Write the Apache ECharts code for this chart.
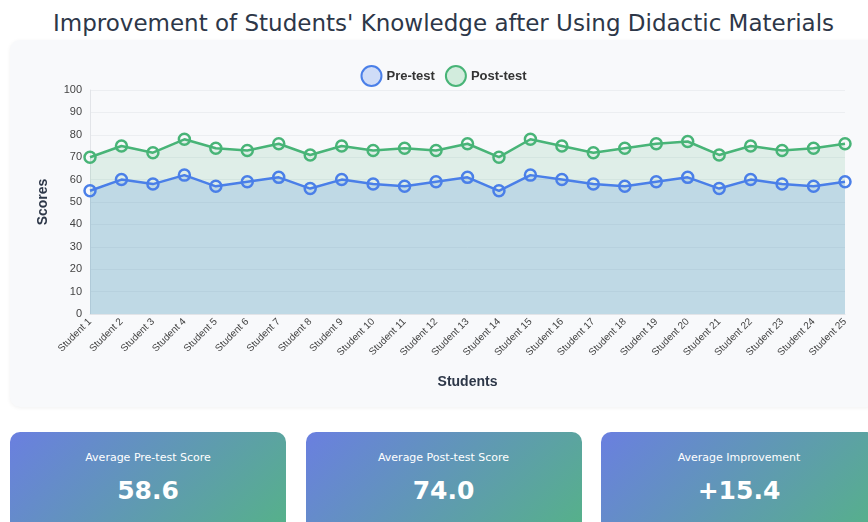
<!DOCTYPE html>
<html>
<head>
<meta charset="utf-8">
<script src="https://cdn.jsdelivr.net/npm/echarts@6/dist/echarts.min.js"></script>
<style>
  body { margin: 0; background: #fff; font-family: "DejaVu Sans", sans-serif; overflow: hidden; width: 868px; height: 522px; }
  #wrap { position: absolute; left: 10px; top: 0; width: 867px; }
  h1 { margin: 0; height: 40px; line-height: 46px; text-align: center; font-weight: normal; font-size: 23px; color: #2d3748; }
  #card { position: relative; height: 367px; background: #f8f9fb; border-radius: 10px; box-shadow: 0 1px 4px rgba(0,0,0,0.06); }
  #main { position: absolute; left: 0; top: 0; width: 867px; height: 367px; }
  .stats { display: flex; justify-content: space-between; margin-top: 25px; }
  .stat { width: 276px; height: 110px; border-radius: 10px; color: #fff; text-align: center;
          background: linear-gradient(135deg, #6a7fe0 0%, #55b386 100%); }
  .stat .lbl { font-size: 11px; padding-top: 19px; }
  .stat .val { font-size: 25px; font-weight: bold; margin-top: 12px; }
</style>
</head>
<body>
<div id="wrap">
  <h1>Improvement of Students' Knowledge after Using Didactic Materials</h1>
  <div id="card"><div id="main"></div></div>
  <div class="stats">
    <div class="stat"><div class="lbl">Average Pre-test Score</div><div class="val" id="s1"></div></div>
    <div class="stat"><div class="lbl">Average Post-test Score</div><div class="val" id="s2"></div></div>
    <div class="stat"><div class="lbl">Average Improvement</div><div class="val" id="s3"></div></div>
  </div>
</div>
<script>
var students = [];
for (var i = 1; i <= 25; i++) students.push('Student ' + i);
var preTest = [55, 60, 58, 62, 57, 59, 61, 56, 60, 58, 57, 59, 61, 55, 62, 60, 58, 57, 59, 61, 56, 60, 58, 57, 59];
var postTest = [70, 75, 72, 78, 74, 73, 76, 71, 75, 73, 74, 73, 76, 70, 78, 75, 72, 74, 76, 77, 71, 75, 73, 74, 76];

function avg(a) {
    var s = 0;
    a.forEach(function(v) { s += v; });
    return s / a.length;
}
var preAvg = avg(preTest), postAvg = avg(postTest);
document.getElementById('s1').textContent = preAvg.toFixed(1);
document.getElementById('s2').textContent = postAvg.toFixed(1);
document.getElementById('s3').textContent = '+' + (postAvg - preAvg).toFixed(1);

var myChart = echarts.init(document.getElementById('main'));
var option = {
    legend: {
        top: 20,
        left: 'center',
        itemWidth: 20,
        itemHeight: 20,
        itemGap: 10,
        textStyle: { fontWeight: 'bold', fontSize: 13, color: '#333' },
        data: [
            { name: 'Pre-test', icon: 'circle', itemStyle: { color: '#cfdcf7', borderColor: '#4a7fe8', borderWidth: 2 } },
            { name: 'Post-test', icon: 'circle', itemStyle: { color: '#d2ecdd', borderColor: '#48b477', borderWidth: 2 } }
        ]
    },
    // 图表位置
    grid: { left: 80, right: 32, top: 50, bottom: 93, containLabel: false },
    xAxis: {
        type: 'category',
        data: students,
        boundaryGap: false,
        name: 'Students',
        nameLocation: 'middle',
        nameGap: 61,
        nameTextStyle: { fontWeight: 'bold', fontSize: 14, color: '#2d3748' },
        axisLine: { lineStyle: { color: '#e2e4e8' } },
        axisTick: { show: false },
        axisLabel: { rotate: 45, fontSize: 10, color: '#444', interval: 0, margin: 6 }
    },
    yAxis: {
        type: 'value',
        min: 0,
        max: 100,
        interval: 10,
        name: 'Scores',
        nameLocation: 'middle',
        nameGap: 40,
        nameTextStyle: { fontWeight: 'bold', fontSize: 14, color: '#2d3748' },
        axisLine: { show: true, lineStyle: { color: '#e2e4e8' } },
        axisLabel: { fontSize: 11, color: '#444' },
        splitLine: { lineStyle: { color: '#eceef1' } }
    },
    series: [
        {
            name: 'Post-test',
            type: 'line',
            data: postTest,
            symbol: 'circle',
            symbolSize: 11,
            z: 2,
            lineStyle: { color: '#48b477', width: 2.5 },
            itemStyle: { color: 'transparent', borderColor: '#48b477', borderWidth: 2.5 },
            areaStyle: { color: 'rgba(72,180,119,0.2)' }
        },
        {
            name: 'Pre-test',
            type: 'line',
            data: preTest,
            symbol: 'circle',
            symbolSize: 11,
            z: 3,
            lineStyle: { color: '#4a7fe8', width: 2.5 },
            itemStyle: { color: 'transparent', borderColor: '#4a7fe8', borderWidth: 2.5 },
            areaStyle: { color: 'rgba(75,135,215,0.3)' }
        }
    ]
};
myChart.setOption(option);
</script>
</body>
</html>
